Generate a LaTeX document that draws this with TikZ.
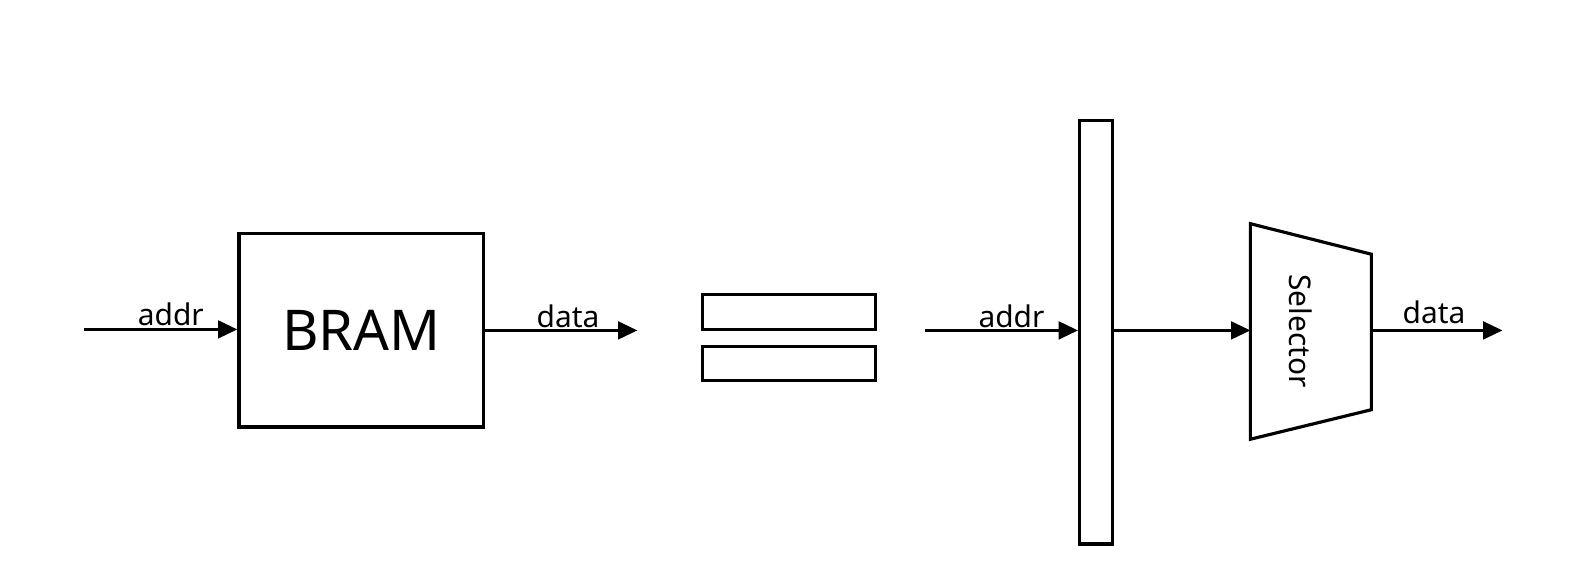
\documentclass[tikz,border=0pt]{standalone}
\usepackage{fontspec}
\setmainfont{Noto Sans}
\usetikzlibrary{arrows.meta}
\tikzset{
  wire/.style={line width=1.8pt, -{Triangle[length=11pt,width=10pt]}},
  blk/.style={draw, line width=1.8pt, inner sep=0pt, fill=white},
  lbl/.style={font=\fontsize{17}{19}\selectfont, anchor=base, inner sep=0pt}
}
\begin{document}
\begin{tikzpicture}[x=0.02cm,y=-0.02cm]
\useasboundingbox (0,0) rectangle (1593,586);
% BRAM
\node[blk, minimum width=4.9cm, minimum height=3.864cm] (bram) at (361.4,330.4)
  {\fontsize{32}{36}\selectfont BRAM};
\coordinate (a1) at (84,329.4);
\coordinate (d1) at (637.4,330.4);
\draw[wire] (a1) -- (a1 -| bram.west);
\draw[wire] (bram.east |- d1) -- (d1);
\node[lbl] (addr1) at (170.8,325) {addr};
\node[lbl] (data1) at (568,327) {data};
% equals
\node[blk, minimum width=3.456cm, minimum height=0.692cm] (eq1) at (788.9,312.1) {};
\node[blk, minimum width=3.456cm, minimum height=0.67cm] (eq2) at (788.9,363.45) {};
% bar
\node[blk, minimum width=0.652cm, minimum height=8.478cm] (bar) at (1095.9,332) {};
\coordinate (a2) at (925.1,330.4);
\draw[wire] (a2) -- (a2 -| bar.west);
\node[lbl] (addr2) at (1011.5,327) {addr};
% selector
\draw[line width=1.8pt, line join=miter] (1250.4,223.7) coordinate (stl) -- (1371.4,254.2) coordinate (str)
  -- (1371.4,409.7) coordinate (sbr) -- (1250.4,439.2) coordinate (sbl) -- cycle;
\coordinate (sin) at (1250.4,330.4);
\coordinate (sout) at (1371.4,330.4);
\node[rotate=-90, font=\fontsize{17}{19}\selectfont, inner sep=0pt] (sel) at (1301,331) {Selector};
\draw[wire] (bar.east |- sin) -- (sin);
\coordinate (d2) at (1502.5,330.4);
\draw[wire] (sout) -- (d2);
\node[lbl] (data2) at (1434,323) {data};
\end{tikzpicture}
\end{document}
